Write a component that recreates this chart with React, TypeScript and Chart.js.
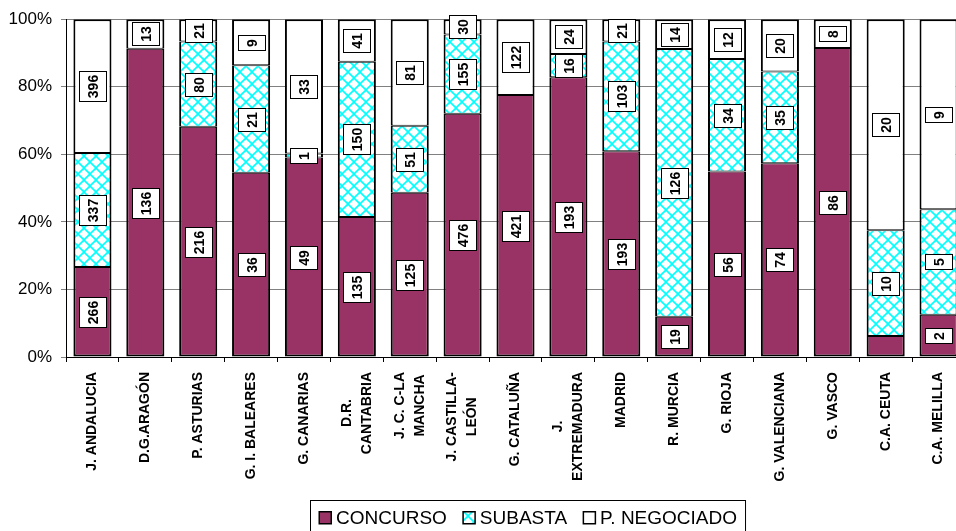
import React, { useEffect, useRef } from 'react';
import { Chart, registerables } from 'chart.js';

Chart.register(...registerables);

const categories: (string | string[])[] = [
  'J. ANDALUCIA',
  'D.G.ARAGÓN',
  'P. ASTURIAS',
  'G. I. BALEARES',
  'G. CANARIAS',
  ['D.R.', 'CANTABRIA'],
  ['J. C. C-LA', 'MANCHA'],
  ['J. CASTILLA-', 'LEÓN'],
  'G. CATALUÑA',
  ['J.', 'EXTREMADURA'],
  'MADRID',
  'R. MURCIA',
  'G. RIOJA',
  'G. VALENCIANA',
  'G. VASCO',
  'C.A. CEUTA',
  'C.A. MELILLA',
];

const concurso = [266, 136, 216, 36, 49, 135, 125, 476, 421, 193, 193, 19, 56, 74, 86, 2, 2];
const subasta = [337, 0, 80, 21, 1, 150, 51, 155, 0, 16, 103, 126, 34, 35, 0, 10, 5];
const negociado = [396, 13, 21, 9, 33, 41, 81, 30, 122, 24, 21, 14, 12, 20, 8, 20, 9];

const seriesNames = ['CONCURSO', 'SUBASTA', 'P. NEGOCIADO'];
const yTickStep = 20;
const yMax = 100;
// labels not shown in the original (category index - series index)
const hiddenLabels = ['15-0'];

const FONT = '"Liberation Sans", Arial, Helvetica, sans-serif';

function makePattern(): CanvasPattern | string {
  const c = document.createElement('canvas');
  const s = 12;
  c.width = s;
  c.height = s;
  const g = c.getContext('2d');
  if (!g) return '#ccffff';
  g.fillStyle = '#ffffff';
  g.fillRect(0, 0, s, s);
  g.strokeStyle = '#00ffff';
  g.lineWidth = 1.6;
  g.beginPath();
  g.moveTo(-2, -2);
  g.lineTo(s + 2, s + 2);
  g.moveTo(s + 2, -2);
  g.lineTo(-2, s + 2);
  g.stroke();
  const p = g.createPattern(c, 'repeat');
  return p || '#ccffff';
}

export default function App() {
  const ref = useRef<HTMLCanvasElement | null>(null);

  useEffect(() => {
    document.body.style.margin = '0';
    document.body.style.overflow = 'hidden';
    const canvas = ref.current;
    if (!canvas) return;
    const pattern = makePattern();
    const raw = [concurso, subasta, negociado];
    const totals = categories.map((_, j) => concurso[j] + subasta[j] + negociado[j]);
    const pct = (arr: number[]) => arr.map((v, j) => (v / totals[j]) * 100);
    const fills: any[] = ['#993366', pattern, '#ffffff'];

    const labelPlugin = {
      id: 'segLabels',
      afterDatasetsDraw(chart: any) {
        const ctx = chart.ctx as CanvasRenderingContext2D;
        ctx.save();
        ctx.font = `bold 14px ${FONT}`;
        chart.data.datasets.forEach((_: any, i: number) => {
          const meta = chart.getDatasetMeta(i);
          meta.data.forEach((el: any, j: number) => {
            const v = raw[i][j];
            if (!v || hiddenLabels.includes(`${j}-${i}`)) return;
            const { x, y, base } = el.getProps(['x', 'y', 'base'], true);
            const cy = (y + base) / 2;
            const txt = String(v);
            const tw = ctx.measureText(txt).width;
            const bw = 27;
            const bh = Math.round(tw + 7);
            const left = Math.round(x - bw / 2) + 0.5;
            const top = Math.round(cy - bh / 2) + 0.5;
            ctx.fillStyle = '#ffffff';
            ctx.fillRect(left, top, bw, bh);
            ctx.strokeStyle = '#000000';
            ctx.lineWidth = 1;
            ctx.strokeRect(left, top, bw, bh);
            ctx.save();
            ctx.translate(left + bw / 2, top + bh / 2);
            ctx.rotate(-Math.PI / 2);
            ctx.fillStyle = '#000000';
            ctx.textAlign = 'center';
            ctx.textBaseline = 'middle';
            ctx.fillText(txt, 0, 1);
            ctx.restore();
          });
        });
        ctx.restore();
      },
    };

    const xLabelPlugin = {
      id: 'xLabels',
      afterDraw(chart: any) {
        const ctx = chart.ctx as CanvasRenderingContext2D;
        const xs = chart.scales.x;
        const top = chart.chartArea.bottom + 15;
        const lh = 20;
        ctx.save();
        ctx.font = `bold 14px ${FONT}`;
        ctx.fillStyle = '#000000';
        ctx.textAlign = 'center';
        ctx.textBaseline = 'middle';
        (chart.data.labels as any[]).forEach((lab, j) => {
          const lines: string[] = Array.isArray(lab) ? lab : [lab];
          const cx = xs.getPixelForTick(j);
          const maxW = Math.max(...lines.map((l) => ctx.measureText(l).width));
          lines.forEach((line, k) => {
            const lx = cx + (k - (lines.length - 1) / 2) * lh;
            ctx.save();
            ctx.translate(lx, top + maxW / 2);
            ctx.rotate(-Math.PI / 2);
            ctx.fillText(line, 0, 0);
            ctx.restore();
          });
        });
        ctx.restore();
      },
    };

    const legendPlugin = {
      id: 'boxLegend',
      afterDraw(chart: any) {
        const ctx = chart.ctx as CanvasRenderingContext2D;
        ctx.save();
        ctx.font = `19px ${FONT}`;
        const box = 12;
        const gapText = 5;
        const gapItem = 16;
        const items = chart.data.datasets.map((d: any) => ({
          label: d.label as string,
          fill: d.backgroundColor,
          w: ctx.measureText(d.label).width,
        }));
        const total =
          items.reduce((s: number, it: any) => s + box + gapText + it.w, 0) + gapItem * (items.length - 1);
        const center = 528;
        let x = Math.round(center - total / 2);
        const top = 500.5;
        ctx.strokeStyle = '#000000';
        ctx.lineWidth = 1;
        ctx.strokeRect(x - 8.5, top, total + 17, 40);
        const baseline = 524;
        items.forEach((it: any) => {
          ctx.fillStyle = it.fill;
          ctx.fillRect(x, 511.5, box, box);
          ctx.lineWidth = 1.5;
          ctx.strokeStyle = '#000000';
          ctx.strokeRect(x + 0.25, 511.75, box, box);
          ctx.fillStyle = '#000000';
          ctx.textBaseline = 'alphabetic';
          ctx.textAlign = 'left';
          ctx.fillText(it.label, x + box + gapText, baseline);
          x += box + gapText + it.w + gapItem;
        });
        ctx.restore();
      },
    };

    const common = {
      borderColor: '#000000',
      borderSkipped: false as const,
      barPercentage: 0.72,
      categoryPercentage: 1,
    };

    const chart = new Chart(canvas, {
      type: 'bar',
      data: {
        labels: categories as any,
        datasets: [
          {
            ...common,
            label: seriesNames[0],
            data: pct(concurso),
            backgroundColor: fills[0],
            borderWidth: { top: 1, bottom: 2, left: 2, right: 2 },
          },
          {
            ...common,
            label: seriesNames[1],
            data: pct(subasta),
            backgroundColor: fills[1],
            borderWidth: { top: 1, bottom: 1, left: 2, right: 2 },
          },
          {
            ...common,
            label: seriesNames[2],
            data: pct(negociado),
            backgroundColor: fills[2],
            borderWidth: { top: 2, bottom: 1, left: 2, right: 2 },
          },
        ],
      },
      options: {
        responsive: false,
        maintainAspectRatio: false,
        animation: false,
        devicePixelRatio: 1,
        layout: { padding: { left: 0, right: 15, top: 17, bottom: 0 } },
        plugins: {
          legend: { display: false },
          tooltip: { enabled: false },
          title: { display: false },
        },
        scales: {
          x: {
            stacked: true,
            offset: true,
            afterFit: (s: any) => {
              s.height = 174;
            },
            grid: {
              display: true,
              drawOnChartArea: false,
              drawTicks: true,
              tickLength: 5,
              offset: true,
              color: '#000000',
            },
            border: { display: true, color: '#000000', width: 1 },
            ticks: { display: false, autoSkip: false },
          },
          y: {
            stacked: true,
            min: 0,
            max: yMax,
            afterFit: (s: any) => {
              s.width = 66;
            },
            grid: { color: '#808080', lineWidth: 1, tickLength: 5, drawTicks: true },
            border: { display: true, color: '#000000', width: 1 },
            ticks: {
              stepSize: yTickStep,
              padding: 9,
              color: '#000000',
              font: { family: FONT, size: 17 },
              callback: (v: any) => `${v}%`,
            },
          },
        },
      },
      plugins: [labelPlugin, xLabelPlugin, legendPlugin],
    });

    return () => {
      chart.destroy();
    };
  }, []);

  return (
    <div style={{ width: 956, height: 531, overflow: 'hidden', position: 'relative', background: '#fff' }}>
      <canvas ref={ref} width={980} height={531} style={{ display: 'block', width: 980, height: 531 }} />
    </div>
  );
}
